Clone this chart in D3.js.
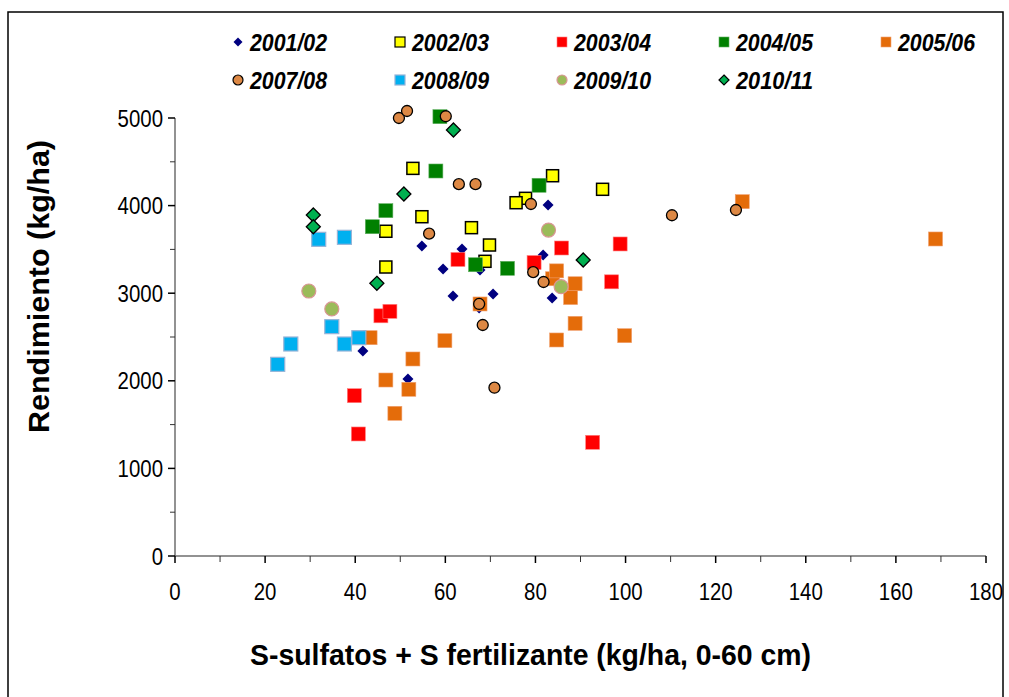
<!DOCTYPE html>
<html><head><meta charset="utf-8">
<script src="https://cdn.jsdelivr.net/npm/d3@7"></script>
<style>body{margin:0;background:#fff}svg{display:block}text{font-family:"Liberation Sans",Arial,sans-serif}</style>
</head><body>
<svg id="c" width="1009" height="697"></svg>
<script>
const seriesNames = ["2001/02","2002/03","2003/04","2004/05","2005/06","2007/08","2008/09","2009/10","2010/11"];
const s0102 = [[41.7,2340],[51.7,2020],[54.8,3540],[59.5,3276],[61.7,2968],[63.7,3505],[67.7,3265],[67.5,2830],[70.6,2991],[81.7,3436],[82.8,4007],[83.7,2945]];
const s0203 = [[52.8,4425],[54.8,3873],[46.8,3707],[46.8,3299],[83.8,4341],[94.9,4186],[77.8,4083],[75.7,4033],[65.8,3748],[69.8,3550],[68.8,3364]];
const s0304 = [[62.8,3385],[45.7,2742],[47.7,2793],[39.8,1830],[40.7,1393],[79.7,3350],[85.8,3516],[98.8,3562],[96.9,3130],[92.7,1298]];
const s0405 = [[58.8,5015],[57.9,4395],[46.8,3942],[43.8,3759],[80.8,4232],[66.7,3325],[73.8,3284]];
const s0506 = [[43.3,2492],[46.8,2009],[48.8,1629],[51.9,1903],[52.8,2249],[59.9,2458],[67.7,2877],[83.8,3165],[84.7,3255],[84.7,2466],[87.8,2950],[88.8,3108],[88.8,2656],[99.8,2515],[125.9,4045],[168.8,3619]];
const s0708 = [[49.7,5000],[51.5,5080],[60.1,5020],[56.4,3680],[63.0,4245],[66.7,4245],[79.0,4018],[79.5,3240],[81.8,3128],[67.5,2877],[68.3,2637],[70.9,1921],[110.3,3890],[124.5,3950]];
const s0809 = [[31.9,3615],[37.6,3638],[34.8,2618],[25.7,2420],[37.6,2420],[40.8,2492],[22.8,2188]];
const s0910 = [[34.8,2820],[29.7,3025],[82.9,3721],[85.7,3074]];
const s1011 = [[61.8,4863],[50.8,4132],[30.7,3893],[30.7,3759],[44.8,3113],[90.6,3379]];
const xTicks = [0,20,40,60,80,100,120,140,160,180];
const yTicks = [0,1000,2000,3000,4000,5000];
const xTitle = "S-sulfatos + S fertilizante (kg/ha, 0-60 cm)";
const yTitle = "Rendimiento (kg/ha)";

const styles = [
  {shape:"diamond", size:11, fill:"#000080", stroke:"none", lsize:9},
  {shape:"square", size:12, fill:"#FFFF00", stroke:"#000", sw:1.5, lsize:10},
  {shape:"square", size:14, fill:"#FF0000", stroke:"#FF8080", sw:0.6, lsize:10},
  {shape:"square", size:14, fill:"#008000", stroke:"#60b060", sw:0.6, lsize:10},
  {shape:"square", size:14, fill:"#E46C0A", stroke:"#F0A070", sw:0.6, lsize:10},
  {shape:"circle", size:11, fill:"#DD8844", stroke:"#000", sw:1.3, lsize:10},
  {shape:"square", size:14, fill:"#00B0F0", stroke:"#95B3D7", sw:1.2, lsize:10},
  {shape:"circle", size:14, fill:"#9BBB59", stroke:"#D99694", sw:1.2, lsize:10},
  {shape:"diamond", size:14, fill:"#00B050", stroke:"#000", sw:1.3, lsize:10}
];
const allData = [s0102,s0203,s0304,s0405,s0506,s0708,s0809,s0910,s1011];

const svg = d3.select("#c");
svg.append("rect").attr("x",8).attr("y",12).attr("width",995).attr("height",700)
  .attr("fill","none").attr("stroke","#000").attr("stroke-width",1.5);

const x = d3.scaleLinear().domain([0,180]).range([175,986]);
const y = d3.scaleLinear().domain([0,5000]).range([556,118]);

function marker(g, st, sz){
  if(st.shape==="square"){
    return g.append("rect").attr("x",-sz/2).attr("y",-sz/2).attr("width",sz).attr("height",sz);
  } else if(st.shape==="circle"){
    return g.append("circle").attr("r",sz/2);
  } else {
    const h=sz/2;
    return g.append("path").attr("d",`M0,${-h}L${h},0L0,${h}L${-h},0Z`);
  }
}

// axes
const yMinor = d3.range(500,5000,1000);
const xMinor = d3.range(10,180,20);
const ax = svg.append("g");
ax.append("line").attr("x1",x(0)).attr("x2",x(0)).attr("y1",y(0)).attr("y2",y(5000)).attr("stroke","#6e6e6e").attr("stroke-width",1.5);
ax.append("line").attr("x1",x(0)).attr("x2",x(180)).attr("y1",y(0)).attr("y2",y(0)).attr("stroke","#6e6e6e").attr("stroke-width",1.5);
yTicks.forEach(v=>ax.append("line").attr("x1",x(0)-7).attr("x2",x(0)).attr("y1",y(v)).attr("y2",y(v)).attr("stroke","#000").attr("stroke-width",1.5));
yMinor.forEach(v=>ax.append("line").attr("x1",x(0)-5).attr("x2",x(0)).attr("y1",y(v)).attr("y2",y(v)).attr("stroke","#333").attr("stroke-width",1));
xTicks.forEach(v=>ax.append("line").attr("x1",x(v)).attr("x2",x(v)).attr("y1",y(0)).attr("y2",y(0)+7).attr("stroke","#000").attr("stroke-width",1.5));
xMinor.forEach(v=>ax.append("line").attr("x1",x(v)).attr("x2",x(v)).attr("y1",y(0)).attr("y2",y(0)+6).attr("stroke","#333").attr("stroke-width",1));

const sx = 0.85;
yTicks.forEach(v=>ax.append("text").attr("transform",`translate(163,${y(v)+8.5}) scale(${sx},1)`).attr("text-anchor","end")
  .attr("font-size",24).attr("fill","#000").text(v));
xTicks.forEach(v=>ax.append("text").attr("transform",`translate(${x(v)},600) scale(${sx},1)`).attr("text-anchor","middle")
  .attr("font-size",24).attr("fill","#000").text(v));

svg.append("text").attr("x",250).attr("y",665).attr("textLength",561).attr("lengthAdjust","spacingAndGlyphs")
  .attr("font-size",29).attr("font-weight","bold").text(xTitle);
svg.append("text").attr("transform","translate(49,433) rotate(-90)").attr("textLength",293).attr("lengthAdjust","spacingAndGlyphs")
  .attr("font-size",29).attr("font-weight","bold").text(yTitle);

// points
allData.forEach((data,i)=>{
  const st = styles[i];
  const g = svg.append("g");
  data.forEach(d=>{
    const mg = g.append("g").attr("transform",`translate(${x(d[0])},${y(d[1])})`);
    marker(mg, st, st.size).attr("fill",st.fill).attr("stroke",st.stroke).attr("stroke-width",st.sw||0);
  });
});

// legend
const legX = [238,400,562,724,886];
const legY = [42,80];
seriesNames.forEach((n,i)=>{
  const row = i<5?0:1, col = i<5?i:i-5;
  const st = styles[i];
  const g = svg.append("g").attr("transform",`translate(${legX[col]},${legY[row]})`);
  marker(g, st, st.lsize).attr("fill",st.fill).attr("stroke",st.stroke).attr("stroke-width",st.sw?Math.min(st.sw,1.2):0);
  g.append("text").attr("x",12).attr("y",9).attr("font-size",23).attr("font-weight","bold")
    .attr("font-style","italic").attr("textLength",77).attr("lengthAdjust","spacingAndGlyphs").text(n);
});
</script>
</body></html>
